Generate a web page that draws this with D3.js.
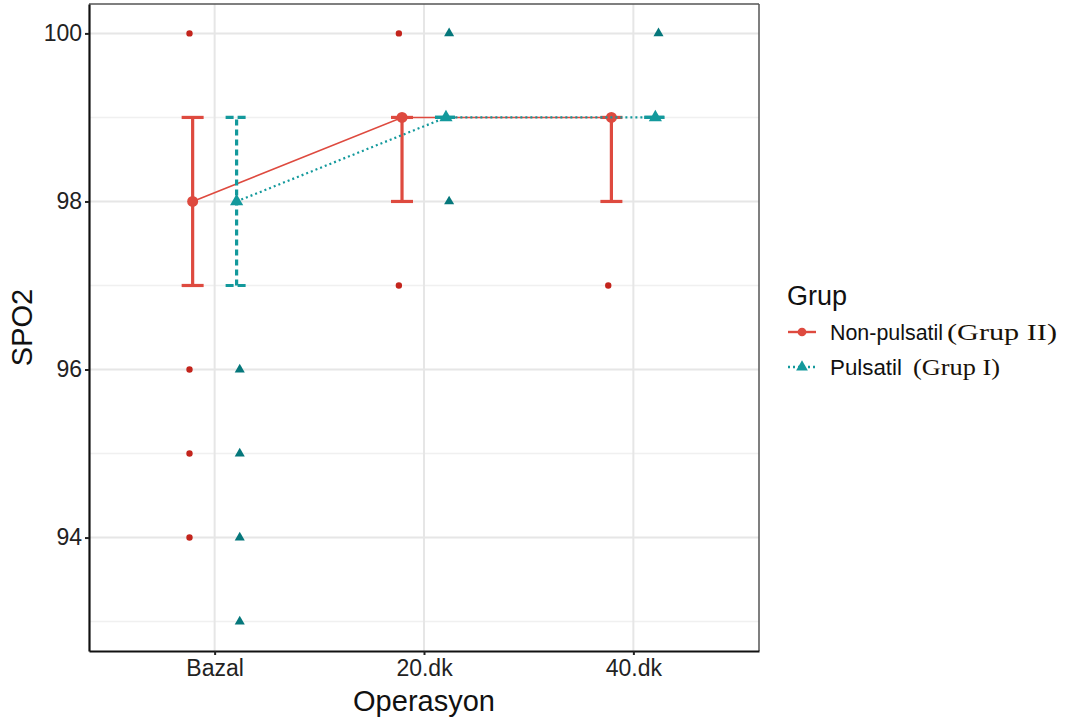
<html lang="en">
<head>
<meta charset="UTF-8"/>
<title>SPO2</title>
<style>
  body { margin: 0; background: #fff; }
  svg { display: block; }
  text { font-family: "Liberation Sans", Arial, sans-serif; }
</style>
</head>
<body>
<svg width="1067" height="720"></svg>
<script src="https://d3js.org/d3.v7.min.js"></script>
<script>
  // categories
  const times = ["Bazal", "20.dk", "40.dk"];
  const groups = ["Non-pulsatil", "Pulsatil"];
  const groupSuffix = ["(Grup II)", "(Grup I)"];

  // summary: median and interquartile range per time point
  const nonPulsatilMedian = [98, 99, 99];
  const nonPulsatilLow = [97, 98, 98];
  const nonPulsatilHigh = [99, 99, 99];
  const pulsatilMedian = [98, 99, 99];
  const pulsatilLow = [97, 99, 99];
  const pulsatilHigh = [99, 99, 99];

  // individual observations visible outside the bars
  const nonPulsatilTime = ["Bazal", "Bazal", "Bazal", "Bazal", "20.dk", "20.dk", "40.dk"];
  const nonPulsatilValue = [100, 96, 95, 94, 100, 97, 97];
  const pulsatilTime = ["Bazal", "Bazal", "Bazal", "Bazal", "20.dk", "20.dk", "40.dk"];
  const pulsatilValue = [96, 95, 94, 93, 100, 98, 100];

  const yTicks = [94, 96, 98, 100];
  const yMinor = [93, 95, 97, 99];

  const series = [
    {name: groups[0], suffix: groupSuffix[0], med: nonPulsatilMedian, lo: nonPulsatilLow, hi: nonPulsatilHigh,
     pt: nonPulsatilTime, pv: nonPulsatilValue, color: "#de4a3f", dark: "#c3241c", dodge: -1, shape: "circle",
     line: null, bar: null, nameW: 113, sufX: 947, sufW: 110},
    {name: groups[1], suffix: groupSuffix[1], med: pulsatilMedian, lo: pulsatilLow, hi: pulsatilHigh,
     pt: pulsatilTime, pv: pulsatilValue, color: "#13999c", dark: "#05777b", dodge: 1, shape: "triangle",
     line: "2,3", bar: "6,4", nameW: 72, sufX: 913, sufW: 87}
  ];

  const svg = d3.select("svg");
  const L = 89, R = 759, T = 4, B = 651;

  const x = d3.scaleLinear().domain([0.4, 3.6]).range([L, R]);
  const xi = t => times.indexOf(t) + 1;
  const y = d3.scaleLinear().domain([92.65, 100.35]).range([B, T]);

  // grid
  const grid = svg.append("g");
  grid.selectAll(".ymin").data(yMinor).enter().append("line")
    .attr("x1", L).attr("x2", R).attr("y1", d => y(d)).attr("y2", d => y(d))
    .attr("stroke", "#f0f0f0").attr("stroke-width", 1.5);
  grid.selectAll(".ymaj").data(yTicks).enter().append("line")
    .attr("x1", L).attr("x2", R).attr("y1", d => y(d)).attr("y2", d => y(d))
    .attr("stroke", "#e6e6e6").attr("stroke-width", 2);
  grid.selectAll(".xmaj").data(times).enter().append("line")
    .attr("y1", T).attr("y2", B).attr("x1", d => x(xi(d))).attr("x2", d => x(xi(d)))
    .attr("stroke", "#e6e6e6").attr("stroke-width", 2);

  // panel border
  svg.append("line").attr("x1", L).attr("x2", R).attr("y1", T).attr("y2", T).attr("stroke", "#555").attr("stroke-width", 1.5);
  svg.append("line").attr("x1", R).attr("x2", R).attr("y1", T).attr("y2", B).attr("stroke", "#555").attr("stroke-width", 1.5);

  const sym = d3.symbol();
  const shapePath = (shape, size) => sym.type(shape === "circle" ? d3.symbolCircle : d3.symbolTriangle).size(size)();

  // raw points
  series.forEach(s => {
    svg.append("g").selectAll("path").data(s.pv.map((v, i) => ({t: s.pt[i], v}))).enter().append("path")
      .attr("d", shapePath(s.shape, s.shape === "circle" ? 32 : 44))
      .attr("transform", d => `translate(${x(xi(d.t) + s.dodge * 0.12)},${y(d.v)})`)
      .attr("fill", s.dark);
  });

  // error bars, lines, medians
  series.forEach(s => {
    const data = times.map((t, i) => ({t, med: s.med[i], lo: s.lo[i], hi: s.hi[i]}));
    const cx = d => x(xi(d.t) + s.dodge * 0.105);
    const g = svg.append("g");
    const cap = 11;
    g.selectAll(".v").data(data).enter().append("line")
      .attr("x1", cx).attr("x2", cx).attr("y1", d => y(d.lo)).attr("y2", d => y(d.hi))
      .attr("stroke", s.color).attr("stroke-width", 3.2).attr("stroke-dasharray", s.bar);
    ["lo", "hi"].forEach(k => {
      g.selectAll(".c" + k).data(data).enter().append("line")
        .attr("x1", d => cx(d) - cap).attr("x2", d => cx(d) + cap)
        .attr("y1", d => y(d[k])).attr("y2", d => y(d[k]))
        .attr("stroke", s.color).attr("stroke-width", 3.2).attr("stroke-dasharray", s.bar ? "8,4" : null);
    });
    g.append("path").datum(data)
      .attr("d", d3.line().x(cx).y(d => y(d.med)))
      .attr("fill", "none").attr("stroke", s.color).attr("stroke-width", s.line ? 2.2 : 1.6)
      .attr("stroke-dasharray", s.line);
    g.selectAll(".m").data(data).enter().append("path")
      .attr("d", shapePath(s.shape, s.shape === "circle" ? 95 : 75))
      .attr("transform", d => `translate(${cx(d)},${y(d.med)})`)
      .attr("fill", s.color);
  });

  // axes
  const yAxis = svg.append("g").attr("transform", `translate(${L},0)`)
    .call(d3.axisLeft(y).tickValues(yTicks).tickSize(4).tickSizeOuter(0).tickPadding(3));
  const xAxis = svg.append("g").attr("transform", `translate(0,${B})`)
    .call(d3.axisBottom(x).tickValues([1, 2, 3]).tickFormat(d => times[d - 1]).tickSize(4).tickSizeOuter(0).tickPadding(5));
  [yAxis, xAxis].forEach(a => {
    a.select(".domain").attr("stroke", "#111").attr("stroke-width", 2.2);
    a.selectAll(".tick line").attr("stroke", "#222").attr("stroke-width", 2);
    a.selectAll("text").attr("font-size", 23).attr("fill", "#222");
  });

  // titles
  svg.append("text").attr("x", (L + R) / 2).attr("y", 711).attr("text-anchor", "middle")
    .attr("font-size", 29).attr("fill", "#111").text("Operasyon");
  svg.append("text").attr("transform", `translate(32,${(T + B) / 2}) rotate(-90)`).attr("text-anchor", "middle")
    .attr("font-size", 29).attr("fill", "#111").text("SPO2");

  // legend
  const lg = svg.append("g");
  lg.append("text").attr("x", 787).attr("y", 305).attr("font-size", 27).attr("fill", "#111").text("Grup");
  series.forEach((s, i) => {
    const yy = 332 + i * 35;
    lg.append("line").attr("x1", 788).attr("x2", 816).attr("y1", yy).attr("y2", yy)
      .attr("stroke", s.color).attr("stroke-width", 2.4).attr("stroke-dasharray", s.line);
    lg.append("path").attr("d", shapePath(s.shape, 60)).attr("transform", `translate(802,${yy})`).attr("fill", s.color);
    lg.append("text").attr("x", 830).attr("y", yy + 8).attr("font-size", 21.5).attr("fill", "#111")
      .attr("textLength", s.nameW).attr("lengthAdjust", "spacingAndGlyphs").text(s.name);
    lg.append("text").attr("x", s.sufX).attr("y", yy + 8)
      .style("font-family", "'Liberation Serif', 'Times New Roman', serif").attr("font-size", 24)
      .attr("textLength", s.sufW).attr("lengthAdjust", "spacingAndGlyphs")
      .attr("fill", "#1a1208").text(s.suffix);
  });
</script>
</body>
</html>
